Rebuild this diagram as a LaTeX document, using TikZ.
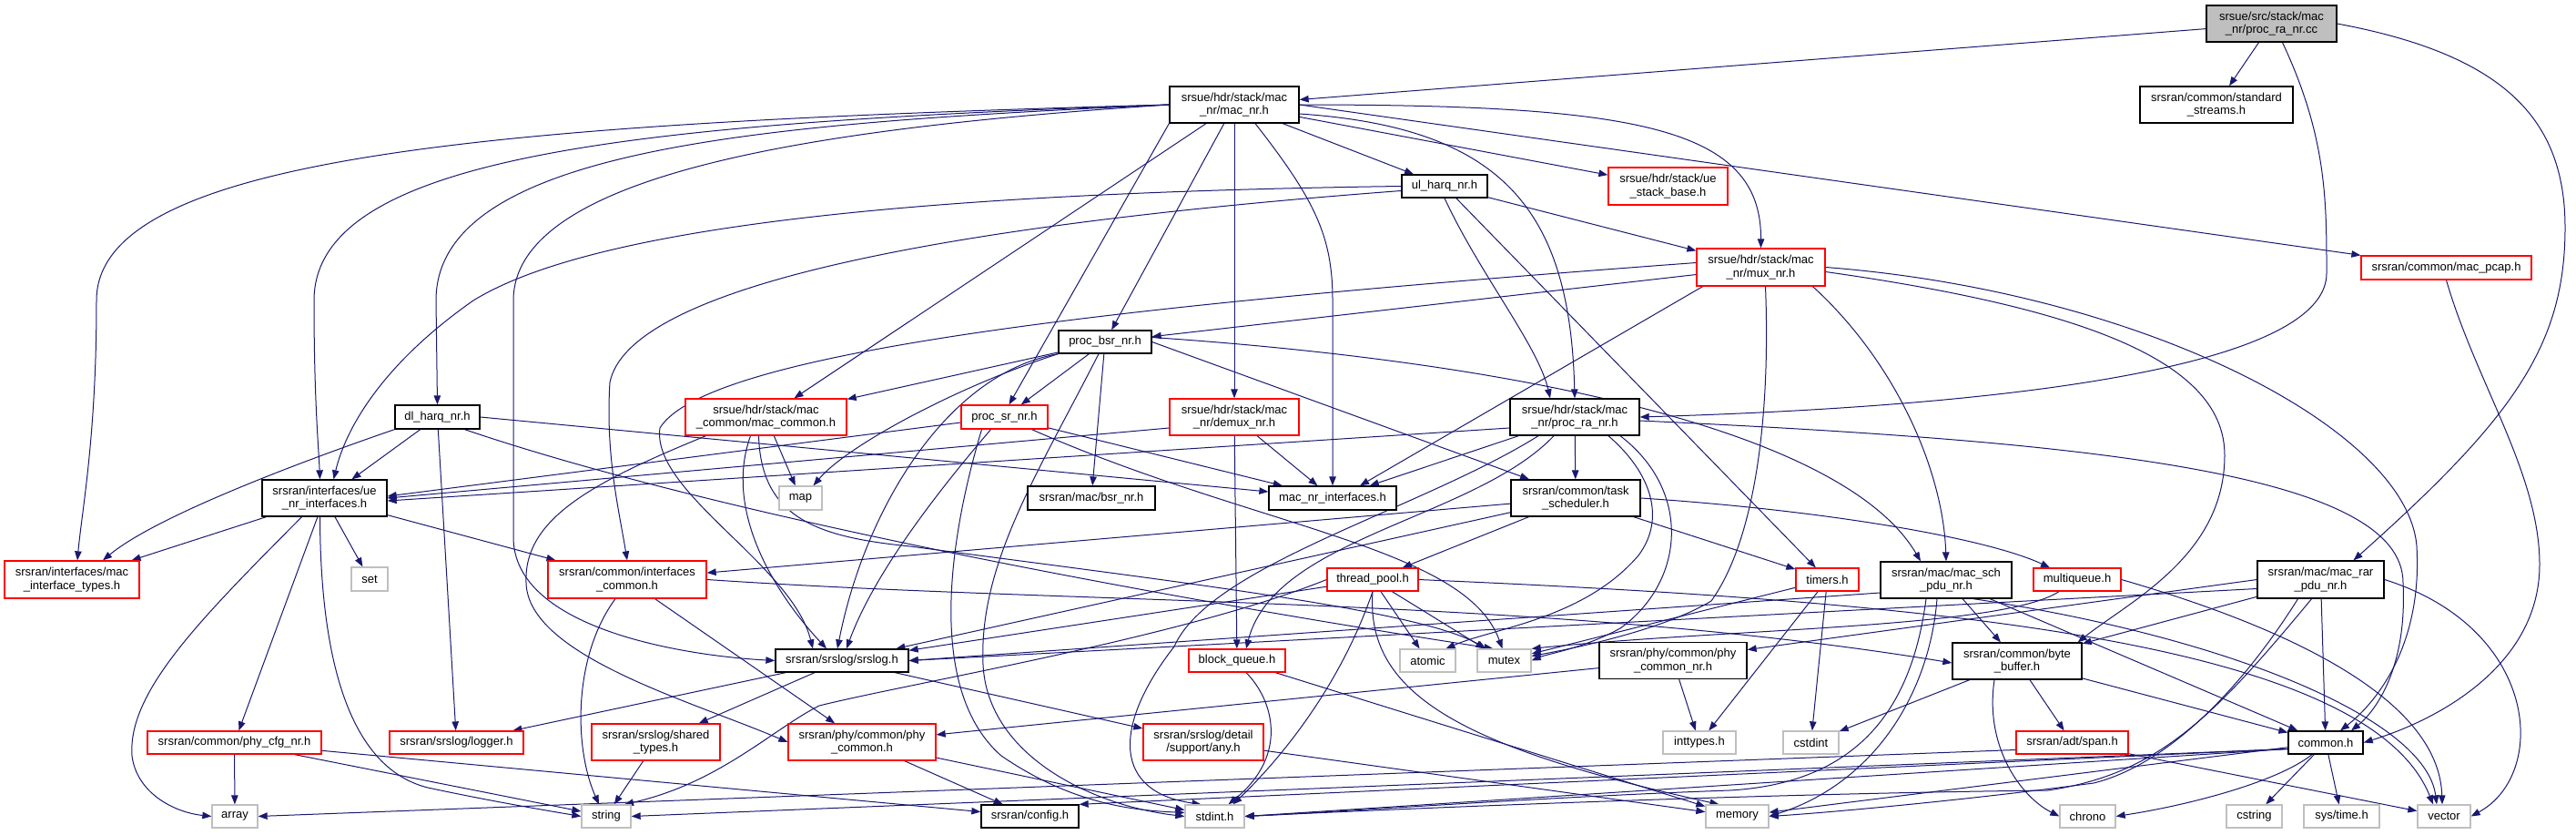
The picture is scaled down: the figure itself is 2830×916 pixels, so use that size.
\documentclass[tikz,border=0pt]{standalone}
\usepackage{fontspec}
\setmainfont{Liberation Sans}
\usetikzlibrary{arrows.meta,backgrounds}
\usepackage{xcolor}
\definecolor{edgeblue}{HTML}{191970}
\definecolor{boxred}{HTML}{FF0000}
\definecolor{boxgray}{HTML}{BFBFBF}
\definecolor{rootgray}{HTML}{BFBFBF}

\tikzset{
  hdr/.style={draw=black, fill=white, line width=1.3pt, inner sep=0pt, align=center,
    font=\fontsize{13}{14.5}\selectfont},
  trunc/.style={hdr, draw=boxred},
  sys/.style={hdr, draw=boxgray},
  srcfile/.style={hdr, fill=rootgray},
  dim/.style 2 args={minimum width=#1pt, minimum height=#2pt},
  dep/.style={draw=edgeblue, line width=1pt, -{Triangle[length=10pt,width=7.5pt]}}
}

\begin{document}
\begin{tikzpicture}[x=1pt, y=1pt]

  % Canvas
  \useasboundingbox (0,0) rectangle (2830,-916);

  % Source file
  \node[srcfile, dim={143}{40}] (root) at (2495.5,-26) {srsue/src/stack/mac\\\_nr/proc\_ra\_nr.cc};

  % Row 1
  \node[hdr, dim={142}{40}] (macnr) at (1356,-115) {srsue/hdr/stack/mac\\\_nr/mac\_nr.h};
  \node[hdr, dim={168}{40}] (stdstreams) at (2435,-115) {srsran/common/standard\\\_streams.h};

  % Row 2
  \node[hdr, dim={94}{25}] (ulharq) at (1587,-204.5) {ul\_harq\_nr.h};
  \node[trunc, dim={131}{41}] (uestack) at (1832.5,-204.5) {srsue/hdr/stack/ue\\\_stack\_base.h};

  % Row 3
  \node[trunc, dim={141}{41}] (mux) at (1934.5,-293.5) {srsue/hdr/stack/mac\\\_nr/mux\_nr.h};
  \node[trunc, dim={187}{26}] (macpcap) at (2687.5,-294) {srsran/common/mac\_pcap.h};
  \node[hdr, dim={102}{25}] (procbsr) at (1214,-375.5) {proc\_bsr\_nr.h};

  % Row 4
  \node[hdr, dim={93}{26}] (dlharq) at (480.5,-458) {dl\_harq\_nr.h};
  \node[trunc, dim={177}{40}] (maccommon) at (841.5,-458) {srsue/hdr/stack/mac\\\_common/mac\_common.h};
  \node[trunc, dim={95}{26}] (procsr) at (1103.5,-458) {proc\_sr\_nr.h};
  \node[trunc, dim={142}{40}] (demux) at (1356,-458) {srsue/hdr/stack/mac\\\_nr/demux\_nr.h};
  \node[hdr, dim={142}{40}] (procra) at (1730,-458) {srsue/hdr/stack/mac\\\_nr/proc\_ra\_nr.h};

  % Row 5
  \node[hdr, dim={137}{40}] (ueifs) at (356.5,-547) {srsran/interfaces/ue\\\_nr\_interfaces.h};
  \node[sys, dim={47}{26}] (map) at (879.5,-547) {map};
  \node[hdr, dim={140}{26}] (bsr) at (1199,-547) {srsran/mac/bsr\_nr.h};
  \node[hdr, dim={140}{26}] (macnrifs) at (1464,-547) {mac\_nr\_interfaces.h};
  \node[hdr, dim={142}{40}] (tasksched) at (1731,-547) {srsran/common/task\\\_scheduler.h};

  % Row 6
  \node[trunc, dim={148}{41}] (macifs) at (79,-636.5) {srsran/interfaces/mac\\\_interface\_types.h};
  \node[sys, dim={40}{26}] (set) at (406,-636) {set};
  \node[trunc, dim={174}{41}] (ifcommon) at (689,-636.5) {srsran/common/interfaces\\\_common.h};
  \node[trunc, dim={100}{25}] (threadpool) at (1508,-636.5) {thread\_pool.h};
  \node[trunc, dim={69}{25}] (timers) at (2007.5,-636.5) {timers.h};
  \node[hdr, dim={144}{40}] (macsch) at (2138,-637) {srsran/mac/mac\_sch\\\_pdu\_nr.h};
  \node[trunc, dim={96}{25}] (multiqueue) at (2282,-636.5) {multiqueue.h};
  \node[hdr, dim={139}{41}] (macrar) at (2549.5,-636.5) {srsran/mac/mac\_rar\\\_pdu\_nr.h};

  % Row 7
  \node[hdr, dim={146}{25}] (srslog) at (925,-725.5) {srsran/srslog/srslog.h};
  \node[trunc, dim={106}{25}] (blockqueue) at (1359,-725.5) {block\_queue.h};
  \node[sys, dim={61}{25}] (atomic) at (1568.5,-725.5) {atomic};
  \node[sys, dim={59}{25}] (mutex) at (1652.5,-725.5) {mutex};
  \node[hdr, dim={162}{40}] (phycommonnr) at (1838,-725.5) {srsran/phy/common/phy\\\_common\_nr.h};
  \node[hdr, dim={142}{40}] (bytebuffer) at (2216,-726) {srsran/common/byte\\\_buffer.h};

  % Row 8
  \node[trunc, dim={191}{25}] (phycfg) at (257.5,-815.5) {srsran/common/phy\_cfg\_nr.h};
  \node[trunc, dim={147}{25}] (logger) at (501.5,-815.5) {srsran/srslog/logger.h};
  \node[trunc, dim={141}{40}] (sharedtypes) at (720.5,-815) {srsran/srslog/shared\\\_types.h};
  \node[trunc, dim={162}{40}] (phycommon) at (947,-815) {srsran/phy/common/phy\\\_common.h};
  \node[trunc, dim={132}{40}] (any) at (1322,-815) {srsran/srslog/detail\\/support/any.h};
  \node[sys, dim={80}{25}] (inttypes) at (1867,-815.5) {inttypes.h};
  \node[sys, dim={61}{25}] (cstdint) at (1989.5,-815.5) {cstdint};
  \node[trunc, dim={123}{25}] (span) at (2276.5,-815.5) {srsran/adt/span.h};
  \node[hdr, dim={82}{25}] (common) at (2555,-815.5) {common.h};

  % Row 9 (system headers)
  \node[sys, dim={50}{25}] (array) at (258,-896.5) {array};
  \node[sys, dim={54}{25}] (string) at (666,-896.5) {string};
  \node[hdr, dim={107}{25}] (config) at (1131.5,-896.5) {srsran/config.h};
  \node[sys, dim={65}{25}] (stdint) at (1334.5,-896.5) {stdint.h};
  \node[sys, dim={69}{25}] (memory) at (1908.5,-896.5) {memory};
  \node[sys, dim={61}{25}] (chrono) at (2293.5,-896.5) {chrono};
  \node[sys, dim={61}{25}] (cstring) at (2476.5,-896.5) {cstring};
  \node[sys, dim={83}{25}] (systime) at (2572.5,-896.5) {sys/time.h};
  \node[sys, dim={58}{25}] (vector) at (2685,-896.5) {vector};

  \begin{pgfonlayer}{background}
  % Includes of the source file
  \draw[dep] (root) -- (macnr);
  \draw[dep] (root) -- (stdstreams);
  \draw[dep] ([xshift=12pt]root.south) .. controls (2556,-150) and (2556,-220) .. (2556,-300)
    .. controls (2556,-430) and (2000,-452) .. (procra.east);
  \draw[dep] (root.east) .. controls (2750,-60) and (2818,-130) .. (2818,-250)
    .. controls (2818,-380) and (2760,-460) .. ([xshift=36pt]macrar.north);

  % mac_nr.h
  \draw[dep] (macnr) -- (ulharq);
  \draw[dep] (macnr) -- (uestack);
  \draw[dep] (macnr.east) .. controls (1800,-115) and (1935,-140) .. (mux.north);
  \draw[dep] (macnr.east) -- (macpcap.north west);
  \draw[dep] (macnr) -- (procbsr);
  \draw[dep] (macnr.south west) -- ([xshift=5pt]procsr.north);
  \draw[dep] (macnr) -- (maccommon);
  \draw[dep] (macnr) -- (demux);
  \draw[dep] ([xshift=23pt]macnr.south) .. controls (1445,-220) and (1464,-260) .. (1464,-330) -- (macnrifs.north);
  \draw[dep] ([yshift=-10pt]macnr.east) .. controls (1650,-140) and (1725,-230) .. (procra.north);
  \draw[dep] (macnr.west) .. controls (850,-135) and (479,-160) .. (479,-330) -- (dlharq.north);
  \draw[dep] (macnr.west) .. controls (700,-135) and (345,-170) .. (345,-330)
    .. controls (345,-440) and (350,-490) .. ([xshift=-5pt]ueifs.north);
  \draw[dep] (macnr.west) .. controls (550,-135) and (106,-170) .. (106,-330)
    .. controls (106,-480) and (90,-560) .. ([xshift=6pt]macifs.north);
  \draw[dep] (macnr.west) .. controls (900,-140) and (564,-190) .. (564,-330) -- (564,-590)
    .. controls (564,-690) and (750,-720) .. (srslog.west);

  % ul_harq_nr.h
  \draw[dep] (ulharq.west) .. controls (1000,-212) and (650,-250) .. (520,-330)
    .. controls (420,-400) and (380,-470) .. ([xshift=10pt]ueifs.north);
  \draw[dep] ([yshift=-5pt]ulharq.west) .. controls (1000,-250) and (690,-320) .. (670,-420)
    .. controls (665,-500) and (680,-560) .. (ifcommon.north);
  \draw[dep] (ulharq) -- (mux);
  \draw[dep] (ulharq.south) .. controls (1625,-300) and (1690,-380) .. ([xshift=-27pt]procra.north);
  \draw[dep] (ulharq) -- (timers);

  % mux_nr.h
  \draw[dep] (mux) -- (procbsr);
  \draw[dep] ([yshift=5pt]mux.west) .. controls (1300,-330) and (780,-380) .. (725,-470)
    .. controls (715,-540) and (870,-620) .. ([xshift=-32pt]srslog.north);
  \draw[dep] ([xshift=-64pt]mux.south) -- ([xshift=30pt]macnrifs.north);
  \draw[dep] ([xshift=5pt]mux.south) .. controls (1945,-450) and (1930,-590) .. (1880,-660)
    .. controls (1830,-690) and (1740,-710) .. ([yshift=5pt]mutex.east);
  \draw[dep] ([xshift=57pt]mux.south) .. controls (2085,-400) and (2135,-520) .. (macsch.north);
  \draw[dep] ([yshift=-5pt]mux.east) .. controls (2300,-340) and (2444,-400) .. (2444,-500)
    .. controls (2444,-610) and (2340,-660) .. ([xshift=-5pt]bytebuffer.north east);
  \draw[dep] (mux.east) .. controls (2350,-320) and (2645,-470) .. (2655,-600)
    .. controls (2662,-720) and (2600,-780) .. ([xshift=16pt]common.north);

  % proc_bsr_nr.h
  \draw[dep] (procbsr) -- (maccommon);
  \draw[dep] (procbsr) -- (procsr);
  \draw[dep] (procbsr) -- (bsr);
  \draw[dep] (procbsr.south west) .. controls (1050,-425) and (930,-490) .. ([xshift=14pt]map.north);
  \draw[dep] (procbsr.south west) .. controls (1040,-410) and (950,-560) .. ([xshift=-5pt]srslog.north);
  \draw[dep] ([xshift=-7pt]procbsr.south) .. controls (1140,-520) and (1075,-620) .. (1080,-730)
    .. controls (1085,-830) and (1200,-885) .. (stdint.west);
  \draw[dep] (procbsr.east) -- ([xshift=-51pt]tasksched.north);
  \draw[dep] ([yshift=5pt]procbsr.east) .. controls (1700,-400) and (2030,-480) .. ([xshift=-28pt]macsch.north);

  % mac_common.h
  \draw[dep] (maccommon) -- (map);
  \draw[dep] ([xshift=-17pt]maccommon.south) .. controls (795,-560) and (850,-650) .. ([xshift=-17pt]srslog.north);
  \draw[dep] ([xshift=-66pt]maccommon.south) .. controls (650,-530) and (575,-570) .. (578,-640)
    .. controls (580,-720) and (760,-770) .. (phycommon.west);
  \draw[dep] ([xshift=-8pt]maccommon.south) .. controls (836,-570) and (900,-590) .. (1000,-600)
    .. controls (1300,-640) and (1560,-670) .. ([xshift=-20pt]mutex.north);

  % dl_harq_nr.h
  \draw[dep] (dlharq.south west) .. controls (380,-490) and (180,-560) .. ([xshift=34pt]macifs.north);
  \draw[dep] (dlharq) -- ([xshift=30pt]ueifs.north);
  \draw[dep] (dlharq) -- (logger);
  \draw[dep] (dlharq.east) -- ([yshift=7pt]macnrifs.west);
  \draw[dep] ([xshift=30pt]dlharq.south) .. controls (800,-570) and (1300,-660) .. ([xshift=-12pt]mutex.north);

  % proc_sr_nr.h
  \draw[dep] ([yshift=-6pt]procsr.west) -- ([yshift=2pt]ueifs.east);
  \draw[dep] (procsr) -- (macnrifs);
  \draw[dep] ([xshift=-15pt]procsr.south) .. controls (1030,-540) and (960,-630) .. ([xshift=5pt]srslog.north);
  \draw[dep] ([xshift=30pt]procsr.south) .. controls (1380,-580) and (1610,-600) .. ([xshift=-2pt]mutex.north);
  \draw[dep] ([xshift=-25pt]procsr.south) .. controls (1040,-600) and (1020,-760) .. (1100,-830)
    .. controls (1180,-885) and (1250,-890) .. ([yshift=4pt]stdint.west);

  % demux_nr.h
  \draw[dep] ([yshift=-12pt]demux.west) -- (ueifs.east);
  \draw[dep] (demux) -- (macnrifs);
  \draw[dep] (demux) -- (blockqueue);

  % proc_ra_nr.h
  \draw[dep] ([yshift=-12pt]procra.west) -- ([yshift=-3pt]ueifs.east);
  \draw[dep] (procra) -- (macnrifs);
  \draw[dep] (procra) -- (tasksched);
  \draw[dep] ([xshift=-23pt]procra.south) .. controls (1620,-570) and (1400,-590) .. ([xshift=10pt]blockqueue.north);
  \draw[dep] ([xshift=-40pt]procra.south) .. controls (1560,-560) and (1330,-620) .. (1290,-710)
    .. controls (1220,-800) and (1225,-870) .. ([xshift=-15pt]stdint.north);
  \draw[dep] ([xshift=37pt]procra.south) .. controls (1815,-520) and (1830,-570) .. (1800,-610)
    .. controls (1740,-680) and (1640,-690) .. ([xshift=20pt]atomic.north);
  \draw[dep] ([xshift=50pt]procra.south) .. controls (1860,-540) and (1850,-640) .. (1780,-690)
    .. controls (1740,-712) and (1700,-718) .. (mutex.east);
  \draw[dep] ([yshift=-4pt]procra.east) .. controls (2300,-485) and (2640,-520) .. (2640,-640)
    .. controls (2645,-740) and (2605,-785) .. ([xshift=28pt]common.north);

  % task_scheduler.h
  \draw[dep] (tasksched) -- (ifcommon);
  \draw[dep] (tasksched) -- (threadpool);
  \draw[dep] (tasksched) -- (timers);
  \draw[dep] (tasksched.east) .. controls (2000,-560) and (2180,-590) .. ([xshift=-30pt]multiqueue.north);
  \draw[dep] (tasksched) -- (srslog);

  % thread_pool.h
  \draw[dep] (threadpool) -- (srslog);
  \draw[dep] (threadpool) -- (atomic);
  \draw[dep] (threadpool) -- (mutex);
  \draw[dep] (threadpool.south) .. controls (1500,-760) and (1600,-820) .. ([xshift=-20pt]memory.north);
  \draw[dep] (threadpool.south) .. controls (1470,-760) and (1400,-840) .. ([xshift=20pt]stdint.north);
  \draw[dep] (threadpool.west) .. controls (1300,-700) and (1000,-750) .. (900,-775)
    .. controls (850,-800) and (790,-860) .. ([xshift=20pt]string.north);
  \draw[dep] (threadpool.east) .. controls (2100,-660) and (2600,-700) .. ([xshift=-12pt]vector.north);

  % block_queue.h
  \draw[dep] ([xshift=10pt]blockqueue.south) .. controls (1400,-770) and (1415,-830) .. ([xshift=15pt]stdint.north);
  \draw[dep] (blockqueue) -- (memory);

  % srslog.h
  \draw[dep] (srslog) -- (logger);
  \draw[dep] (srslog) -- (sharedtypes);
  \draw[dep] (srslog) -- (any);

  % ue_nr_interfaces.h and friends
  \draw[dep] (ueifs) -- (macifs);
  \draw[dep] (ueifs) -- (set);
  \draw[dep] (ueifs) -- (ifcommon);
  \draw[dep] (ueifs) -- (phycfg);
  \draw[dep] ([xshift=-25pt]ueifs.south) .. controls (220,-680) and (140,-760) .. (145,-830)
    .. controls (150,-870) and (190,-892) .. (array.west);
  \draw[dep] ([xshift=-5pt]ueifs.south) .. controls (352,-740) and (390,-845) .. (470,-865)
    .. controls (540,-880) and (600,-890) .. (string.west);
  \draw[dep] ([xshift=-13pt]ifcommon.south) .. controls (630,-720) and (630,-820) .. ([xshift=-8pt]string.north);
  \draw[dep] (ifcommon) -- (phycommon);
  \draw[dep] (ifcommon.east) .. controls (1200,-665) and (1700,-655) .. ([yshift=-2pt]bytebuffer.west);
  \draw[dep] (sharedtypes) -- (string);
  \draw[dep] (phycommon) -- (config);
  \draw[dep] (phycommon) -- (stdint);
  \draw[dep] (phycfg) -- (array);
  \draw[dep] (phycfg) -- (string);
  \draw[dep] (phycfg) -- (config);
  \draw[dep] (phycommonnr) -- (inttypes);
  \draw[dep] (phycommonnr) -- (phycommon);

  % timers.h, multiqueue.h
  \draw[dep] (timers) -- (inttypes);
  \draw[dep] (timers) -- (cstdint);
  \draw[dep] (timers) -- (mutex);
  \draw[dep] ([xshift=-20pt]multiqueue.south) .. controls (2200,-690) and (1900,-690) .. (mutex.north east);
  \draw[dep] (multiqueue.east) .. controls (2550,-700) and (2680,-780) .. ([xshift=-2pt]vector.north);

  % mac_sch_pdu_nr.h
  \draw[dep] ([yshift=-14pt]macsch.west) -- (srslog.east);
  \draw[dep] (macsch) -- (bytebuffer);
  \draw[dep] (macsch) -- (common);
  \draw[dep] ([xshift=30pt]macsch.south) .. controls (2450,-700) and (2665,-790) .. ([xshift=-8pt]vector.north);
  \draw[dep] ([xshift=-10pt]macsch.south) .. controls (2120,-760) and (2060,-860) .. (memory.east);
  \draw[dep] ([xshift=-22pt]macsch.south) .. controls (2100,-780) and (2040,-860) .. (1900,-868)
    .. controls (1700,-875) and (1500,-890) .. (stdint.east);

  % mac_rar_pdu_nr.h
  \draw[dep] ([yshift=-10pt]macrar.west) -- (srslog.east);
  \draw[dep] (macrar.west) -- ([yshift=12pt]phycommonnr.east);
  \draw[dep] (macrar) -- (bytebuffer);
  \draw[dep] (macrar) -- (common);
  \draw[dep] (macrar.east) .. controls (2790,-690) and (2800,-850) .. (vector.east);
  \draw[dep] ([xshift=-25pt]macrar.south) .. controls (2460,-760) and (2380,-840) .. (2300,-860)
    .. controls (2150,-880) and (2000,-893) .. (memory.east);
  \draw[dep] ([xshift=-10pt]macrar.south) .. controls (2430,-790) and (2370,-850) .. (2250,-868)
    .. controls (1900,-872) and (1500,-890) .. (stdint.east);

  % byte_buffer.h, span.h, common.h
  \draw[dep] (bytebuffer) -- (cstdint);
  \draw[dep] (bytebuffer) -- (span);
  \draw[dep] ([xshift=-25pt]bytebuffer.south) .. controls (2180,-820) and (2220,-875) .. (chrono.west);
  \draw[dep] (bytebuffer) -- (common);
  \draw[dep] (span) -- (vector);
  \draw[dep] ([yshift=-8pt]span.west) -- (array.east);
  \draw[dep] ([yshift=-7pt]common.west) -- (config.north east);
  \draw[dep] ([yshift=-7pt]common.west) -- (stdint.east);
  \draw[dep] (common) -- (memory);
  \draw[dep] ([xshift=-15pt]common.south) .. controls (2500,-860) and (2400,-885) .. (chrono.east);
  \draw[dep] (common) -- (cstring);
  \draw[dep] (common) -- (systime);
  \draw[dep] ([yshift=-7pt]common.west) -- (string.east);
  \draw[dep] (macpcap.south) .. controls (2720,-420) and (2790,-520) .. (2790,-620)
    .. controls (2790,-730) and (2680,-790) .. (common.east);
  \draw[dep] (any) -- (memory);
  \end{pgfonlayer}

\end{tikzpicture}
\end{document}
